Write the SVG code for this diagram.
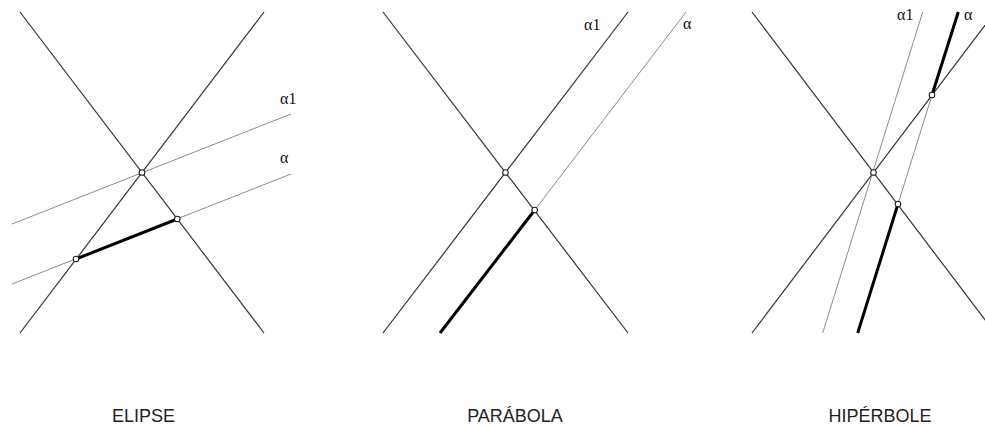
<svg xmlns="http://www.w3.org/2000/svg" width="985" height="425" viewBox="0 0 985 425">
<style>
.gen{stroke:#333;stroke-width:1.2;fill:none}
.thin{stroke:#8c8c8c;stroke-width:1;fill:none}
.thick{stroke:#000;stroke-width:3;fill:none;stroke-linecap:butt}
.pt{fill:#fff;stroke:#222;stroke-width:1.1}
.lbl{font-family:"Liberation Serif","Times New Roman",serif;font-size:16px;fill:#111}
.cap{font-family:"Liberation Sans",Arial,sans-serif;font-size:18px;fill:#222;text-anchor:middle}
</style>
<rect width="985" height="425" fill="#fff"/>
<g id="elipse">
<line class="gen" x1="20" y1="12" x2="264" y2="333"/>
<line class="gen" x1="264" y1="12" x2="20" y2="333"/>
<line class="thin" x1="12" y1="224" x2="291" y2="114"/>
<line class="thin" x1="12" y1="284" x2="291" y2="174"/>
<line class="thick" x1="76" y1="259" x2="177.3" y2="219"/>
<circle class="pt" cx="142" cy="172.5" r="2.8"/>
<circle class="pt" cx="76" cy="259" r="2.8"/>
<circle class="pt" cx="177.3" cy="219" r="2.8"/>
<text class="lbl" x="280" y="104">α1</text>
<text class="lbl" x="280" y="163">α</text>
<text class="cap" x="143.4" y="421.5">ELIPSE</text>
</g>
<g id="parabola">
<line class="gen" x1="383" y1="12" x2="628" y2="333"/>
<line class="gen" x1="628" y1="12" x2="383" y2="333"/>
<line class="thin" x1="686" y1="12" x2="534.7" y2="210"/>
<line class="thick" x1="534.7" y1="210" x2="440" y2="333"/>
<circle class="pt" cx="505.5" cy="172.5" r="2.8"/>
<circle class="pt" cx="534.7" cy="210" r="2.8"/>
<text class="lbl" x="584" y="30">α1</text>
<text class="lbl" x="683" y="29">α</text>
<text class="cap" x="515" y="421.5">PARÁBOLA</text>
</g>
<g id="hiperbole">
<line class="gen" x1="752" y1="12" x2="995" y2="333"/>
<line class="gen" x1="995" y1="12" x2="752" y2="333"/>
<line class="thin" x1="922.7" y1="12" x2="822.7" y2="333"/>
<line class="thick" x1="958.3" y1="12" x2="932" y2="95"/>
<line class="thin" x1="932" y1="95" x2="898" y2="204"/>
<line class="thick" x1="898" y1="204" x2="857.7" y2="333"/>
<circle class="pt" cx="873.5" cy="172.5" r="2.8"/>
<circle class="pt" cx="932" cy="95" r="2.8"/>
<circle class="pt" cx="898" cy="204" r="2.8"/>
<text class="lbl" x="897" y="20">α1</text>
<text class="lbl" x="964" y="20">α</text>
<text class="cap" x="880" y="421.5">HIPÉRBOLE</text>
</g>
</svg>
